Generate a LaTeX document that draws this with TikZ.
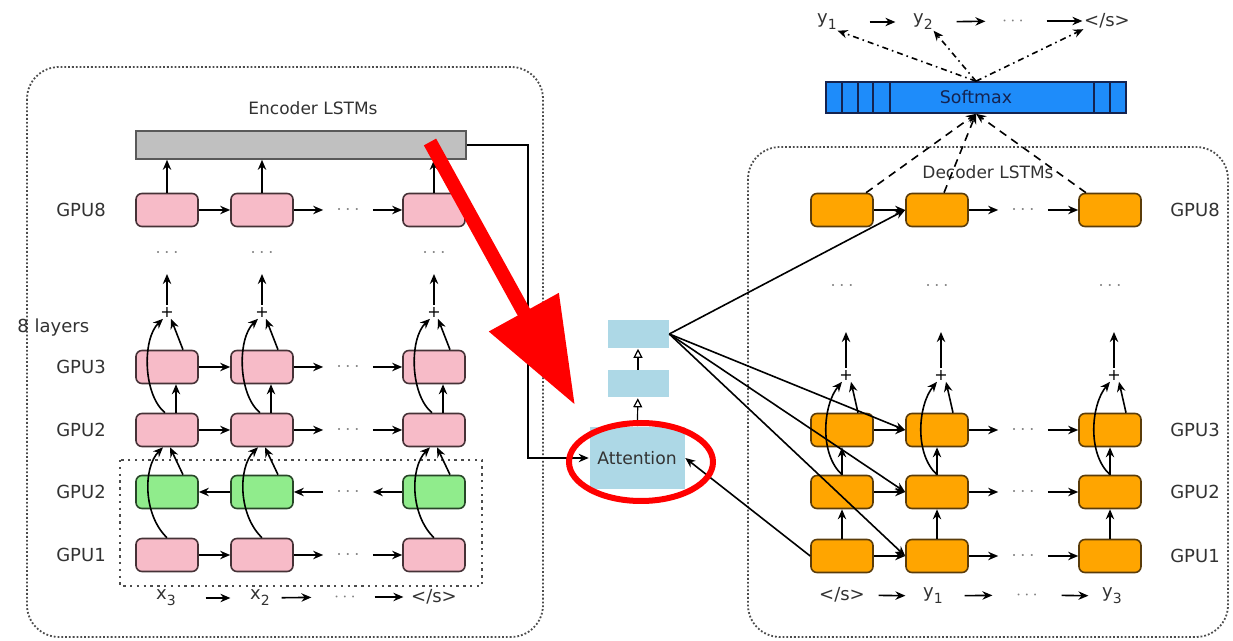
\documentclass[tikz,border=0pt]{standalone}
\usepackage{fontspec}
\setmainfont{DejaVu Sans}
\usetikzlibrary{arrows.meta}
\definecolor{lstmpink}{RGB}{247,187,200}
\definecolor{pinkline}{RGB}{70,50,55}
\definecolor{lstmgreen}{RGB}{144,236,140}
\definecolor{greenline}{RGB}{40,70,40}
\definecolor{lstmorange}{RGB}{255,165,0}
\definecolor{orangeline}{RGB}{90,60,10}
\definecolor{attblue}{RGB}{173,216,230}
\definecolor{barfill}{RGB}{192,192,192}
\definecolor{smfill}{RGB}{30,140,250}
\definecolor{smline}{RGB}{20,35,80}
\definecolor{labelgray}{RGB}{50,50,50}
\newcommand{\lowsub}[1]{\raisebox{-3pt}{\fontsize{7}{8}\selectfont #1}}

\begin{document}
\begin{tikzpicture}[x=0.5pt, y=-0.5pt, line width=0.8pt,
    >={Stealth[length=5pt,width=4.2pt]},
    cell/.style={draw=pinkline, fill=lstmpink, rounded corners=3pt, minimum width=31pt, minimum height=16.5pt, inner sep=0pt},
    bwdcell/.style={cell, draw=greenline, fill=lstmgreen},
    deccell/.style={cell, draw=orangeline, fill=lstmorange},
    gpu/.style={font=\fontsize{9}{11}\selectfont, text=labelgray},
    hdr/.style={font=\fontsize{8.5}{10}\selectfont, text=labelgray},
    tok/.style={font=\fontsize{9}{11}\selectfont, text=labelgray, inner sep=0pt},
    ellip/.style={text=gray, inner sep=0pt, minimum width=24pt},
    adder/.style={font=\fontsize{8}{9}\selectfont, inner sep=0.5pt},
    boxframe/.style={draw=black!70, line width=0.9pt, densely dotted, rounded corners=16pt},
    bidir/.style={draw=black!70, line width=1pt, dash pattern=on 1.2pt off 2.2pt},
    attbox/.style={fill=attblue, inner sep=0pt},
    hollow/.style={-{Triangle[open,length=4.5pt,width=4.5pt]}, line width=0.6pt}]
 \useasboundingbox (0,0) rectangle (1233,641);

 % encoder
 \draw[boxframe] (27,67) rectangle (543,637);
 \draw[bidir] (120,460) rectangle (482,586);
 \node[hdr] (enctitle) at (313,108) {Encoder LSTMs};
 \node[draw=black!65, fill=barfill, minimum width=165pt, minimum height=14pt, inner sep=0pt] (bar) at (301,145) {};
 \node[gpu] (le8) at (81,210) {GPU8};
 \node[gpu] (le3) at (81,367) {GPU3};
 \node[gpu] (le2) at (81,430) {GPU2};
 \node[gpu] (leb) at (81,492) {GPU2};
 \node[gpu] (le1) at (81,555) {GPU1};
 \node[gpu, anchor=west] (layers) at (10,328) {8 layers};

 \node[cell] (e81) at (167,210) {};
 \node[cell] (e82) at (262,210) {};
 \node[cell] (e83) at (434,210) {};
 \node[ellip] (h8) at (348,210) {$\cdots$};
 \node[cell] (e31) at (167,367) {};
 \node[cell] (e32) at (262,367) {};
 \node[cell] (e33) at (434,367) {};
 \node[ellip] (h3) at (348,367) {$\cdots$};
 \node[cell] (e21) at (167,430) {};
 \node[cell] (e22) at (262,430) {};
 \node[cell] (e23) at (434,430) {};
 \node[ellip] (h2) at (348,430) {$\cdots$};
 \node[bwdcell] (eb1) at (167,492) {};
 \node[bwdcell] (eb2) at (262,492) {};
 \node[bwdcell] (eb3) at (434,492) {};
 \node[ellip] (hb) at (348,492) {$\cdots$};
 \node[cell] (e11) at (167,555) {};
 \node[cell] (e12) at (262,555) {};
 \node[cell] (e13) at (434,555) {};
 \node[ellip] (h1) at (348,555) {$\cdots$};

 \node[ellip] (v1) at (167,253) {$\cdots$};
 \node[ellip] (v2) at (262,253) {$\cdots$};
 \node[ellip] (v3) at (434,253) {$\cdots$};
 \node[adder] (s1) at (167,312) {+};
 \node[adder] (s2) at (262,312) {+};
 \node[adder] (s3) at (434,312) {+};
 \coordinate (t1) at (167,274);
 \coordinate (t2) at (262,274);
 \coordinate (t3) at (434,274);

 \node[tok] (x3) at (166,598) {x\lowsub{3}};
 \node[tok] (x2) at (260,598) {x\lowsub{2}};
 \node[tok, text=gray] (xd) at (345,597) {$\cdots$};
 \node[tok] (xe) at (434,597) {</s>};

 \draw[->] (e81) -- (e82);
 \draw[->] (e82) -- (h8);
 \draw[->] (h8) -- (e83);
 \draw[->] (e31) -- (e32);
 \draw[->] (e32) -- (h3);
 \draw[->] (h3) -- (e33);
 \draw[->] (e21) -- (e22);
 \draw[->] (e22) -- (h2);
 \draw[->] (h2) -- (e23);
 \draw[->] (eb2) -- (eb1);
 \draw[->] (hb) -- (eb2);
 \draw[->] (eb3) -- (hb);
 \draw[->] (e11) -- (e12);
 \draw[->] (e12) -- (h1);
 \draw[->] (h1) -- (e13);
 \draw[->] (e81) -- (e81 |- bar.south);
 \draw[->] (e82) -- (e82 |- bar.south);
 \draw[->] (e83) -- (e83 |- bar.south);
 \draw[->] (s1) -- (t1);
 \draw[->] (s2) -- (t2);
 \draw[->] (s3) -- (t3);

 \draw[->] ([xshift=4.5pt]e21.north) -- ([xshift=4.5pt]e31.south);
 \draw[->] ([xshift=-1pt]e21.north) .. controls +(-22,-18) and +(-21,20) .. ([xshift=-2pt]s1.south);
 \draw[->] ([xshift=8pt]e31.north) -- ([xshift=2pt]s1.south);
 \draw[->] (e11.north) .. controls +(-24,-23) and +(-20,20) .. ([xshift=-2pt]e21.south);
 \draw[->] ([xshift=8pt]eb1.north) -- ([xshift=1.5pt]e21.south);
 \draw[->] ([xshift=4.5pt]e22.north) -- ([xshift=4.5pt]e32.south);
 \draw[->] ([xshift=-1pt]e22.north) .. controls +(-22,-18) and +(-21,20) .. ([xshift=-2pt]s2.south);
 \draw[->] ([xshift=8pt]e32.north) -- ([xshift=2pt]s2.south);
 \draw[->] (e12.north) .. controls +(-24,-23) and +(-20,20) .. ([xshift=-2pt]e22.south);
 \draw[->] ([xshift=8pt]eb2.north) -- ([xshift=1.5pt]e22.south);
 \draw[->] ([xshift=4.5pt]e23.north) -- ([xshift=4.5pt]e33.south);
 \draw[->] ([xshift=-1pt]e23.north) .. controls +(-22,-18) and +(-21,20) .. ([xshift=-2pt]s3.south);
 \draw[->] ([xshift=8pt]e33.north) -- ([xshift=2pt]s3.south);
 \draw[->] (e13.north) .. controls +(-24,-23) and +(-20,20) .. ([xshift=-2pt]e23.south);
 \draw[->] ([xshift=8pt]eb3.north) -- ([xshift=1.5pt]e23.south);

 \draw[->, shorten <=14.5pt, shorten >=9.5pt] (x3) -- (x2);
 \draw[->, shorten <=5.5pt, shorten >=11pt] (x2) -- (xd);
 \draw[->, shorten <=9pt, shorten >=3.5pt] (xd) -- (xe);

 % attention
 \node[attbox, minimum width=47.5pt, minimum height=31pt, font=\fontsize{8.6}{10}\selectfont, text=black!80] (att) at (637,458) {Attention};
 \node[attbox, minimum width=30.5pt, minimum height=13.5pt] (att2) at (638,384) {};
 \node[attbox, minimum width=30.5pt, minimum height=14pt] (att3) at (638,334) {};
 \draw[hollow] (att) -- (att2);
 \draw[hollow] (att2) -- (att3);
 \coordinate (elbow) at (528,145);
 \draw[->] (bar) -- (elbow) |- (att);

 % decoder
 \draw[boxframe] (748,147) rectangle (1228,637);
 \node[hdr] (dectitle) at (988,172) {Decoder LSTMs};
 \node[draw=smline, fill=smfill, minimum width=150pt, minimum height=15.5pt, inner sep=0pt, font=\fontsize{8.7}{10}\selectfont, text=smline] (sm) at (976,97.5) {Softmax};
 \draw[smline] (842,82) -- (842,113);
 \draw[smline] (858,82) -- (858,113);
 \draw[smline] (873,82) -- (873,113);
 \draw[smline] (890,82) -- (890,113);
 \draw[smline] (1094,82) -- (1094,113);
 \draw[smline] (1110,82) -- (1110,113);

 \node[tok] (y1t) at (827,22) {y\lowsub{1}};
 \node[tok] (y2t) at (923,22) {y\lowsub{2}};
 \node[tok, text=gray] (ydt) at (1013,21) {$\cdots$};
 \node[tok] (yet) at (1107,21) {</s>};
 \draw[->, shorten <=16pt, shorten >=8.5pt] (y1t) -- (y2t);
 \draw[->, shorten <=11.5pt, shorten >=8pt] (y2t) -- (ydt);
 \draw[->, shorten <=11pt, shorten >=0.5pt] (ydt) -- (yet);

 \node[gpu] (ld8) at (1195,210) {GPU8};
 \node[gpu] (ld3) at (1195,430) {GPU3};
 \node[gpu] (ld2) at (1195,492) {GPU2};
 \node[gpu] (ld1) at (1195,556) {GPU1};

 \node[deccell] (d81) at (842,210) {};
 \node[deccell] (d82) at (937,210) {};
 \node[deccell] (d83) at (1110,210) {};
 \node[ellip] (hd8) at (1023,210) {$\cdots$};
 \node[deccell] (d31) at (842,430) {};
 \node[deccell] (d32) at (937,430) {};
 \node[deccell] (d33) at (1110,430) {};
 \node[ellip] (hd3) at (1023,430) {$\cdots$};
 \node[deccell] (d21) at (842,492) {};
 \node[deccell] (d22) at (937,492) {};
 \node[deccell] (d23) at (1110,492) {};
 \node[ellip] (hd2) at (1023,492) {$\cdots$};
 \node[deccell] (d11) at (842,556) {};
 \node[deccell] (d12) at (937,556) {};
 \node[deccell] (d13) at (1110,556) {};
 \node[ellip] (hd1) at (1023,556) {$\cdots$};

 \node[ellip] (vd1) at (842,286) {$\cdots$};
 \node[ellip] (vd2) at (937,286) {$\cdots$};
 \node[ellip] (vd3) at (1110,286) {$\cdots$};
 \node[adder] (sd1) at (846,375) {+};
 \node[adder] (sd2) at (941,375) {+};
 \node[adder] (sd3) at (1114,375) {+};
 \coordinate (td1) at (846,332);
 \coordinate (td2) at (941,332);
 \coordinate (td3) at (1114,332);

 \node[tok] (ye) at (842,595) {</s>};
 \node[tok] (y1b) at (933,596) {y\lowsub{1}};
 \node[tok, text=gray] (ydb) at (1027,595) {$\cdots$};
 \node[tok] (y3b) at (1112,596) {y\lowsub{3}};
 \draw[->, shorten <=6.5pt, shorten >=8.5pt] (ye) -- (y1b);
 \draw[->, shorten <=10.5pt, shorten >=11.5pt] (y1b) -- (ydb);
 \draw[->, shorten <=11.5pt, shorten >=6.5pt] (ydb) -- (y3b);

 \draw[->] (d81) -- (d82);
 \draw[->] (d82) -- (hd8);
 \draw[->] (hd8) -- (d83);
 \draw[->] (d31) -- (d32);
 \draw[->] (d32) -- (hd3);
 \draw[->] (hd3) -- (d33);
 \draw[->] (d21) -- (d22);
 \draw[->] (d22) -- (hd2);
 \draw[->] (hd2) -- (d23);
 \draw[->] (d11) -- (d12);
 \draw[->] (d12) -- (hd1);
 \draw[->] (hd1) -- (d13);
 \draw[->] (d11) -- (d21);
 \draw[->] (d21) -- (d31);
 \draw[->] (d12) -- (d22);
 \draw[->] (d22) -- (d32);
 \draw[->] (d13) -- (d23);
 \draw[->] (d23) -- (d33);
 \draw[->] (sd1) -- (td1);
 \draw[->] (sd2) -- (td2);
 \draw[->] (sd3) -- (td3);

 \draw[->] (d21.north) .. controls +(-23,-21) and +(-19,23) .. ([xshift=-2pt]sd1.south);
 \draw[->] ([xshift=8pt]d31.north) -- ([xshift=2.5pt]sd1.south);
 \draw[->] (d22.north) .. controls +(-23,-21) and +(-19,23) .. ([xshift=-2pt]sd2.south);
 \draw[->] ([xshift=8pt]d32.north) -- ([xshift=2.5pt]sd2.south);
 \draw[->] (d23.north) .. controls +(-23,-21) and +(-19,23) .. ([xshift=-2pt]sd3.south);
 \draw[->] ([xshift=8pt]d33.north) -- ([xshift=2.5pt]sd3.south);

 \draw[->, dash pattern=on 4pt off 3pt] (d81) -- (sm.south);
 \draw[->, dash pattern=on 4pt off 3pt] (d82) -- (sm.south);
 \draw[->, dash pattern=on 4pt off 3pt] (d83) -- (sm.south);
 \draw[->, dash dot] (sm.north) -- (y1t.south east);
 \draw[->, dash dot] (sm.north) -- (y2t.south east);
 \draw[->, dash dot] (sm.north) -- (yet.south west);

 \draw[->] (att3.east) -- (d82.west);
 \draw[->] (att3.east) -- (d32.west);
 \draw[->] (att3.east) -- (d22.west);
 \draw[->] (att3.east) -- (d12.west);
 \draw[->] (d11.west) -- (att.east);

 % highlight
 \draw[red, line width=3pt] (641,462) ellipse [x radius=36pt, y radius=19.5pt];
 \draw[red, line width=7pt, -{Triangle[length=53pt,width=38pt]}] (430,142) -- (575,405);
\end{tikzpicture}
\end{document}
